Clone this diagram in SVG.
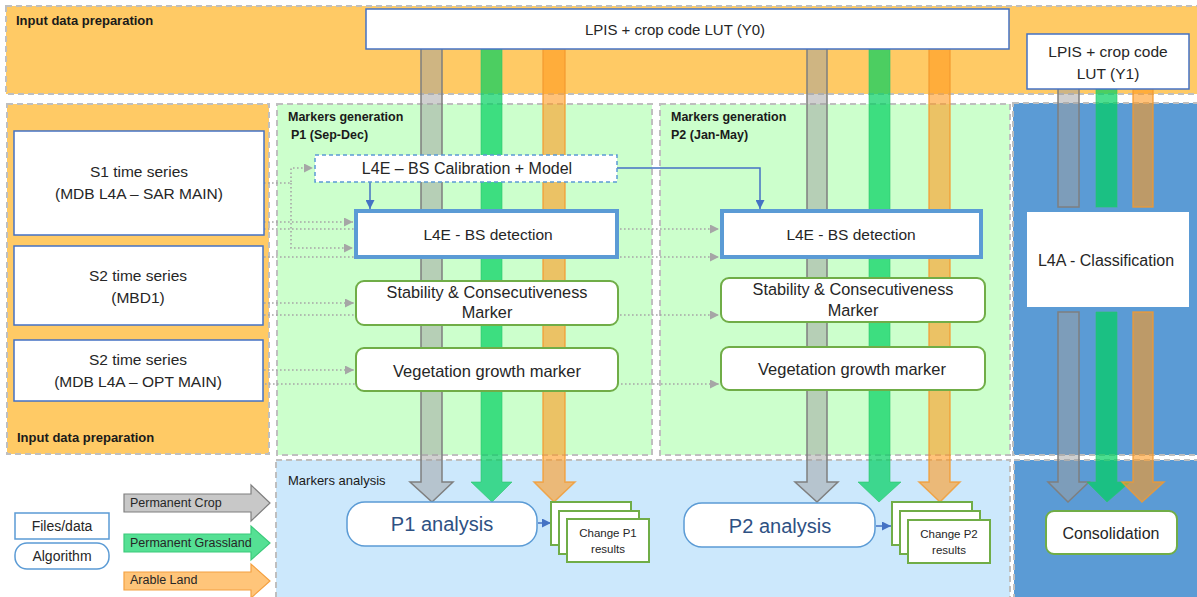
<svg xmlns="http://www.w3.org/2000/svg" width="1197" height="597" viewBox="0 0 1197 597">
<style>
.panel{stroke:#BFBFBF;stroke-width:2;stroke-dasharray:6 4}
.plabel{font-family:"Liberation Sans",Arial,sans-serif;font-weight:bold;font-size:12.5px;fill:#1a1a1a}
.t{font-family:"Liberation Sans",Arial,sans-serif;font-size:15.5px;fill:#262626;text-anchor:middle}
.lg{font-family:"Liberation Sans",Arial,sans-serif;font-size:12.5px;fill:#262626;text-anchor:start}
.file{fill:#fff;stroke:#4472C4;stroke-width:1.5}
.algo{fill:#fff;stroke:#70AD47;stroke-width:2}
.dot{fill:none;stroke:#A6A6A6;stroke-width:1.6;stroke-dasharray:1.6 2.4}
.blue{fill:none;stroke:#4472C4;stroke-width:1.5}
.gb{fill:#A0A0A0;fill-opacity:.5;stroke:#7F7F7F;stroke-width:1.5}
.gr{fill:#00D060;fill-opacity:.7;stroke:#2CC46C;stroke-opacity:.6;stroke-width:1}
.ob{fill:#FF9A20;fill-opacity:.6;stroke:#F29A30;stroke-opacity:.8;stroke-width:1.5}
.res{fill:#fff;stroke:#70AD47;stroke-width:2}
</style>
<defs>
<marker id="ad" viewBox="0 0 10 10" refX="10" refY="5" markerWidth="9" markerHeight="9" markerUnits="userSpaceOnUse" orient="auto"><path d="M0,0 L10,5 L0,10 z" fill="#A6A6A6"/></marker>
<marker id="ab" viewBox="0 0 10 10" refX="10" refY="5" markerWidth="9" markerHeight="9" markerUnits="userSpaceOnUse" orient="auto"><path d="M0,0 L10,5 L0,10 z" fill="#4472C4"/></marker>
</defs>
<rect width="1197" height="597" fill="#fff"/>
<g id="panels">
<rect class="panel" x="6" y="6" width="1195" height="88" fill="#FFCA65"/>
<rect class="panel" x="7" y="104" width="262" height="350" fill="#FFCA65"/>
<rect class="panel" x="277" y="104" width="375" height="351" fill="#CCFFCC"/>
<rect class="panel" x="660" y="104" width="350" height="351" fill="#CCFFCC"/>
<rect class="panel" x="1013" y="103" width="190" height="352" fill="#5B9BD5"/>
<rect class="panel" x="276" y="460" width="734" height="140" fill="#CCE8FC"/>
<rect class="panel" x="1014" y="460" width="190" height="140" fill="#5B9BD5"/>
<text class="plabel" x="16" y="25" style="font-size:13px">Input data preparation</text>
<text class="plabel" x="17" y="442" style="font-size:13px">Input data preparation</text>
<text class="plabel" x="288" y="121">Markers generation</text>
<text class="plabel" x="291" y="139">P1 (Sep-Dec)</text>
<text class="plabel" x="671" y="121">Markers generation</text>
<text class="plabel" x="671" y="139">P2 (Jan-May)</text>
<text class="plabel" x="288" y="485" style="font-weight:normal;font-size:13px">Markers analysis</text>
</g>
<g id="flows">
<polygon class="gb" points="421,46 442,46 442,482 453,482 432,502 410,482 421,482"/>
<polygon class="gr" points="481,46 502,46 502,482 512,482 492,502 471,482 481,482"/>
<polygon class="ob" points="543,46 565,46 565,482 575,482 554,502 534,482 543,482"/>
<polygon class="gb" points="807,46 827,46 827,482 838,482 817,502 795,482 807,482"/>
<polygon class="gr" points="869,46 890,46 890,482 901,482 879,502 858,482 869,482"/>
<polygon class="ob" points="929,46 950,46 950,482 960,482 940,502 919,482 929,482"/>
<rect class="gb" x="1058" y="86" width="21" height="121"/>
<rect class="gr" x="1096" y="86" width="21" height="121"/>
<rect class="ob" x="1133" y="86" width="20" height="121"/>
<polygon class="gb" points="1058,312 1079,312 1079,482 1089,482 1068,502 1048,482 1058,482"/>
<polygon class="gr" points="1096,312 1117,312 1117,482 1130,482 1107,502 1087,482 1096,482"/>
<polygon class="ob" points="1133,312 1153,312 1153,482 1164,482 1142,502 1122,482 1133,482"/>
</g>
<g id="connectors">
<polyline class="dot" points="264,183 291,183 291,168 313,168" marker-end="url(#ad)"/>
<polyline class="dot" points="291,183 291,248 353,248" marker-end="url(#ad)"/>
<line class="dot" x1="264" y1="222" x2="353" y2="222" marker-end="url(#ad)"/>
<line class="dot" x1="264" y1="229" x2="719" y2="229" marker-end="url(#ad)"/>
<line class="dot" x1="264" y1="257" x2="719" y2="257" marker-end="url(#ad)"/>
<line class="dot" x1="264" y1="303" x2="354" y2="303" marker-end="url(#ad)"/>
<line class="dot" x1="264" y1="315" x2="719" y2="315" marker-end="url(#ad)"/>
<line class="dot" x1="264" y1="370" x2="354" y2="370" marker-end="url(#ad)"/>
<line class="dot" x1="261" y1="384" x2="719" y2="384" marker-end="url(#ad)"/>
<line class="blue" x1="370" y1="182" x2="370" y2="209" marker-end="url(#ab)"/>
<polyline class="blue" points="617,168 760,168 760,209" marker-end="url(#ab)"/>
<line class="blue" x1="538" y1="523" x2="551" y2="523" marker-end="url(#ab)"/>
<line class="blue" x1="876" y1="526" x2="891" y2="526" marker-end="url(#ab)"/>
</g>
<g id="lpis-y0">
<rect class="file" x="366" y="9" width="643" height="40"/>
<text class="t" x="675" y="35" style="font-size:15px">LPIS + crop code LUT (Y0)</text>
</g>
<g id="lpis-y1">
<rect class="file" x="1027" y="34" width="162" height="55"/>
<text class="t" x="1108" y="57">LPIS + crop code</text>
<text class="t" x="1108" y="79">LUT (Y1)</text>
</g>
<g id="s1">
<rect class="file" x="14" y="131" width="250" height="104"/>
<text class="t" x="139" y="177">S1 time series</text>
<text class="t" x="139" y="199">(MDB L4A – SAR MAIN)</text>
</g>
<g id="s2-mbd1">
<rect class="file" x="14" y="246" width="249" height="79"/>
<text class="t" x="138" y="281">S2 time series</text>
<text class="t" x="138" y="303">(MBD1)</text>
</g>
<g id="s2-opt">
<rect class="file" x="14" y="340" width="249" height="61"/>
<text class="t" x="138" y="365">S2 time series</text>
<text class="t" x="138" y="387">(MDB L4A – OPT MAIN)</text>
</g>
<g id="calibration">
<rect x="315" y="155" width="302" height="27" fill="#fff" stroke="#5B9BD5" stroke-width="1.5" stroke-dasharray="4 3"/>
<text class="t" x="467" y="174" style="font-size:16px">L4E – BS Calibration + Model</text>
</g>
<g id="bs-p1">
<rect x="356" y="211" width="261" height="46" fill="#fff" stroke="#5B9BD5" stroke-width="4"/>
<text class="t" x="488" y="240">L4E - BS detection</text>
</g>
<g id="stab-p1">
<rect class="algo" x="356" y="281" width="262" height="44" rx="8"/>
<text class="t" x="487" y="298" style="font-size:16.3px">Stability &amp; Consecutiveness</text>
<text class="t" x="487" y="318" style="font-size:16.3px">Marker</text>
</g>
<g id="veg-p1">
<rect class="algo" x="356" y="348" width="262" height="43" rx="8"/>
<text class="t" x="487" y="377" style="font-size:16.5px">Vegetation growth marker</text>
</g>
<g id="bs-p2">
<rect x="722" y="211" width="259" height="46" fill="#fff" stroke="#5B9BD5" stroke-width="4"/>
<text class="t" x="851" y="240">L4E - BS detection</text>
</g>
<g id="stab-p2">
<rect class="algo" x="721" y="278" width="264" height="44" rx="8"/>
<text class="t" x="853" y="295" style="font-size:16.3px">Stability &amp; Consecutiveness</text>
<text class="t" x="853" y="316" style="font-size:16.3px">Marker</text>
</g>
<g id="veg-p2">
<rect class="algo" x="721" y="347" width="264" height="43" rx="8"/>
<text class="t" x="852" y="375" style="font-size:16.5px">Vegetation growth marker</text>
</g>
<g id="classification">
<rect x="1027" y="212" width="162" height="95" fill="#fff"/>
<text class="t" x="1106" y="266" style="font-size:16px">L4A - Classification</text>
</g>
<g id="p1-analysis">
<rect x="347" y="502" width="190" height="44" rx="18" fill="#fff" stroke="#5B9BD5" stroke-width="1.5"/>
<text class="t" x="442" y="531" style="font-size:20px;fill:#2E5183">P1 analysis</text>
</g>
<g id="change-p1">
<rect class="res" x="551" y="502" width="80" height="43"/>
<rect class="res" x="559" y="511" width="80" height="43"/>
<rect class="res" x="567" y="519" width="82" height="43"/>
<text class="t" x="608" y="537" style="font-size:11.5px">Change P1</text>
<text class="t" x="608" y="553" style="font-size:11.5px">results</text>
</g>
<g id="p2-analysis">
<rect x="684" y="503" width="191" height="44" rx="18" fill="#fff" stroke="#5B9BD5" stroke-width="1.5"/>
<text class="t" x="780" y="533" style="font-size:20px;fill:#2E5183">P2 analysis</text>
</g>
<g id="change-p2">
<rect class="res" x="892" y="502" width="80" height="43"/>
<rect class="res" x="900" y="511" width="80" height="43"/>
<rect class="res" x="908" y="520" width="82" height="43"/>
<text class="t" x="949" y="538" style="font-size:11.5px">Change P2</text>
<text class="t" x="949" y="554" style="font-size:11.5px">results</text>
</g>
<g id="consolidation">
<rect class="algo" x="1046" y="511" width="131" height="43" rx="8"/>
<text class="t" x="1111" y="539" style="font-size:16px">Consolidation</text>
</g>
<g id="legend">
<rect x="15" y="513" width="94" height="26" fill="#fff" stroke="#5B9BD5" stroke-width="1.5"/>
<text class="t" x="62" y="531" style="font-size:14px">Files/data</text>
<rect x="15" y="543" width="94" height="26" rx="12" fill="#fff" stroke="#5B9BD5" stroke-width="1.5"/>
<text class="t" x="62" y="561" style="font-size:14px">Algorithm</text>
<polygon points="124,494 251,494 251,485 270,503 251,521 251,512 124,512" fill="#C8C8C8" stroke="#7F7F7F" stroke-width="1.2"/>
<text class="lg" x="130" y="507">Permanent Crop</text>
<polygon points="124,534 251,534 251,526 270,543 251,560 251,552 124,552" fill="#55E094" stroke="#3BC97A" stroke-width="1.2"/>
<text class="lg" x="130" y="547">Permanent Grassland</text>
<polygon points="124,572 251,572 251,564 270,581 251,598 251,590 124,590" fill="#FFC57A" stroke="#F4A040" stroke-width="1.2"/>
<text class="lg" x="130" y="584">Arable Land</text>
</g>
</svg>
